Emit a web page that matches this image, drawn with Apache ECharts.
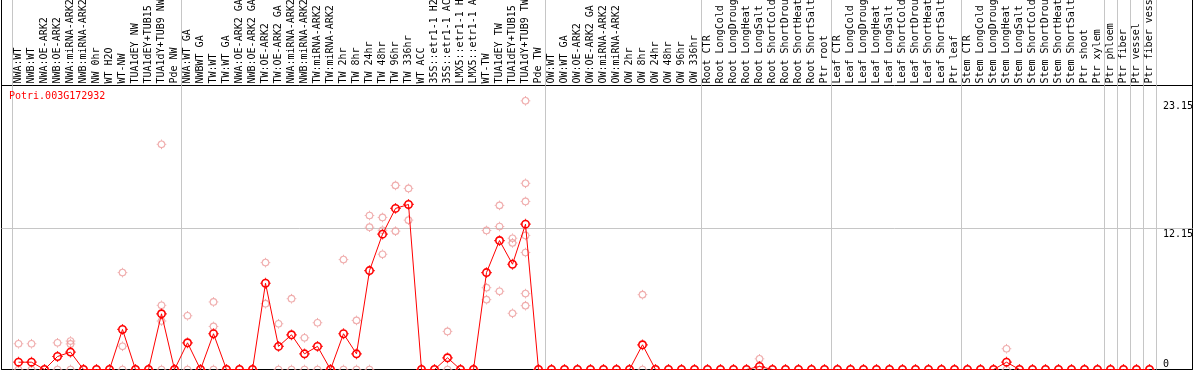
<!DOCTYPE html>
<html><head><meta charset="utf-8">
<script src="https://cdn.jsdelivr.net/npm/echarts@6/dist/echarts.min.js"></script>
<style>html,body{margin:0;padding:0;background:#fff;overflow:hidden}#c{width:1194px;height:370px}</style>
</head><body><div id="c"></div>
<script>
const geneId = 'Potri.003G172932';

const categories = [
  'NWA:WT','NWB:WT','NWA:OE-ARK2','NWB:OE-ARK2','NWA:miRNA-ARK2','NWB:miRNA-ARK2','NW 0hr','WT H2O','WT-NW','TUA1dEY NW','TUA1dEY+TUB15','TUA1dY+TUB9 NW','Pde NW',
  'NWA:WT GA','NWBWT GA','TW:WT','TW:WT GA','NWA:OE-ARK2 GA','NWB:OE-ARK2 GA','TW:OE-ARK2','TW:OE-ARK2 GA','NWA:miRNA-ARK2','NWB:miRNA-ARK2','TW:miRNA-ARK2','TW:miRNA-ARK2','TW 2hr','TW 8hr','TW 24hr','TW 48hr','TW 96hr','TW 336hr','WT ACC','35S::etr1-1 H2','35S::etr1-1 AC','LMX5::etr1-1 H','LMX5::etr1-1 A','WT-TW','TUA1dEY TW','TUA1dEY+TUB15','TUA1dY+TUB9 TW','Pde TW',
  'OW:WT','OW:WT GA','OW:OE-ARK2','OW:OE-ARK2 GA','OW:miRNA-ARK2','OW:miRNA-ARK2','OW 2hr','OW 8hr','OW 24hr','OW 48hr','OW 96hr','OW 336hr',
  'Root CTR','Root LongCold','Root LongDroug','Root LongHeat','Root LongSalt','Root ShortCold','Root ShortDrou','Root ShortHeat','Root ShortSalt','Ptr root',
  'Leaf CTR','Leaf LongCold','Leaf LongDroug','Leaf LongHeat','Leaf LongSalt','Leaf ShortCold','Leaf ShortDrou','Leaf ShortHeat','Leaf ShortSalt','Ptr leaf',
  'Stem CTR','Stem LongCold','Stem LongDroug','Stem LongHeat','Stem LongSalt','Stem ShortCold','Stem ShortDrou','Stem ShortHeat','Stem ShortSalt','Ptr shoot','Ptr xylem',
  'Ptr phloem','Ptr fiber','Ptr vessel','Ptr fiber vess'
];

const medianValues = [
  0.63,0.63,0,1.12,1.5,0,0,0,3.45,0,0,4.8,0,
  2.3,0,3.08,0,0,0,7.43,1.99,2.99,1.35,1.99,0,3.08,1.35,8.52,11.66,13.88,14.22,0,0,1.01,0,0,8.35,11.11,9.07,12.52,0,
  0,0,0,0,0,0,0,2.13,0,0,0,0,
  0,0,0,0,0.26,0,0,0,0,0,
  0,0,0,0,0,0,0,0,0,0,
  0,0,0,0.63,0,0,0,0,0,0,0,
  0,0,0,0
];

const replicateValues = [
  [2.22,0],[2.22,0],[0],[2.3,0],[2.45,2.2,0],[0],[0],[0],[8.35,2.0,0],[0],[0],[19.4,5.53,4.18,0],[0],
  [4.63,0],[0],[5.82,3.71,0],[0],[0],[0],[9.21,5.67],[3.94,0],[6.1,0],[2.73,0],[4.03,0],[0],[9.47,0],[4.23,0],
  [13.27,12.26,0],[13.1,12.0,9.93],[15.86,11.92],[15.6,12.87],[0],[0],[3.28,0],[0],[0],
  [11.98,7.05,6.02],[14.14,12.32,6.74],[11.31,10.91,4.84],[23.15,16.04,14.48,11.55,10.08,6.54,5.5],[0],
  [0],[0],[0],[0],[0],[0],[0],[6.45,0],[0],[0],[0],[0],
  [0],[0],[0],[0],[0.92,0],[0],[0],[0],[0],[0],
  [0],[0],[0],[0],[0],[0],[0],[0],[0],[0],
  [0],[0],[0],[1.79,0],[0],[0],[0],[0],[0],[0],[0],
  [0],[0],[0],[0]
];

const yTickLabels = [0, 12.15, 23.15];
const yGridValues = [12.15];
const groupStarts = [0, 13, 41, 53, 63, 73, 84, 85, 86, 87];

const yMax = 24.47;
const FONT = 'DejaVu Sans Mono';
const GRAY = '#c6c6c6';
const RED = '#ff0000';
const PINK = '#ec9a9a';
const STUBS = 'path://M5,0L5,1.2M5,8.8L5,10M0,5L1.2,5M8.8,5L10,5';

const replicatePoints = [];
replicateValues.forEach((reps, i) => reps.forEach(v => replicatePoints.push([i, v])));

const groupLine = {
  show: true,
  interval: (idx) => groupStarts.indexOf(idx) >= 0,
  lineStyle: { color: GRAY, width: 1 }
};

const ring = (color, width) => ({ color: 'rgba(0,0,0,0)', borderColor: color, borderWidth: width });

const chart = echarts.init(document.getElementById('c'), null, { renderer: 'canvas' });
chart.setOption({
  animation: false,
  backgroundColor: '#ffffff',
  textStyle: { fontFamily: FONT },
  title: {
    text: geneId, left: 9, top: 91, padding: 0,
    textStyle: { color: RED, fontSize: 10, fontWeight: 'normal', fontFamily: FONT }
  },
  grid: [
    { left: 12, right: 38, top: 0, height: 85.5, outerBoundsMode: 'none', containLabel: false },
    { left: 12, right: 38, top: 85.5, bottom: 0.5, outerBoundsMode: 'none', containLabel: false },
    { left: 1.5, right: 1.5, top: 85.5, bottom: 0.5, show: true, borderColor: '#000', borderWidth: 1, backgroundColor: 'transparent', outerBoundsMode: 'none' },
    { left: 1.5, right: 1.5, top: -5, bottom: 0.5, show: true, borderColor: '#000', borderWidth: 1, backgroundColor: 'transparent', outerBoundsMode: 'none' }
  ],
  xAxis: [
    { gridIndex: 0, type: 'category', data: categories, boundaryGap: true,
      axisLine: { show: false }, axisTick: { show: false }, axisLabel: { show: false }, splitLine: groupLine },
    { gridIndex: 1, type: 'category', data: categories, boundaryGap: true, position: 'top',
      axisLine: { show: false }, axisTick: { show: false },
      axisLabel: { interval: 0, rotate: 90, margin: 2, fontSize: 10, color: '#000', fontFamily: FONT },
      splitLine: groupLine },
    { gridIndex: 2, type: 'value', show: false, min: 0, max: 1 },
    { gridIndex: 3, type: 'value', show: false, min: 0, max: 1 }
  ],
  yAxis: [
    { gridIndex: 0, type: 'value', show: false, min: 0, max: 1 },
    { gridIndex: 1, type: 'value', min: 0, max: yMax, position: 'right',
      axisLine: { show: false }, axisTick: { show: false }, splitLine: { show: false },
      axisLabel: { customValues: yTickLabels, margin: 7, align: 'left', fontSize: 10, color: '#000', fontFamily: FONT,
        lineHeight: 11, showMinLabel: true, showMaxLabel: true,
        formatter: (v) => (v === 0 ? '0\n ' : ' \n' + v) } },
    { gridIndex: 2, type: 'value', min: 0, max: yMax,
      axisLine: { show: false }, axisLabel: { show: false },
      axisTick: { show: false, customValues: yGridValues },
      splitLine: { show: true, lineStyle: { color: GRAY, width: 1 } } },
    { gridIndex: 3, type: 'value', show: false, min: 0, max: 1 }
  ],
  series: [
    { type: 'scatter', xAxisIndex: 1, yAxisIndex: 1, data: replicatePoints, silent: true,
      symbol: 'circle', symbolSize: 6.6, z: 3, clip: false, itemStyle: ring(PINK, 1.1) },
    { type: 'scatter', xAxisIndex: 1, yAxisIndex: 1, data: replicatePoints, silent: true,
      symbol: STUBS, symbolSize: 9.6, z: 3, clip: false, itemStyle: ring(PINK, 1) },
    { type: 'line', xAxisIndex: 1, yAxisIndex: 1, data: medianValues, silent: true, clip: false,
      symbol: 'circle', symbolSize: 7.4, showAllSymbol: true, z: 5,
      lineStyle: { color: RED, width: 1 }, itemStyle: ring(RED, 1.6) },
    { type: 'scatter', xAxisIndex: 1, yAxisIndex: 1, data: medianValues.map((v, i) => [i, v]), silent: true,
      symbol: STUBS, symbolSize: 10.8, z: 5, clip: false, itemStyle: ring(RED, 1.2) }
  ]
});
</script>
</body></html>
